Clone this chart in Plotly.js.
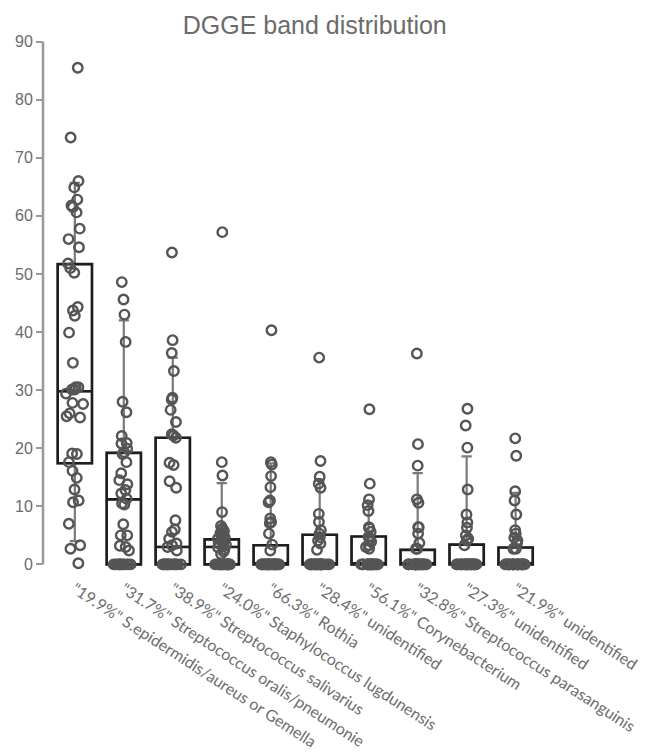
<!DOCTYPE html>
<html>
<head>
<meta charset="utf-8">
<script src="https://cdn.plot.ly/plotly-3.0.1.min.js"></script>
<style>
  html, body { margin: 0; padding: 0; background: #ffffff; }
  #chart { width: 645px; height: 753px; }
</style>
</head>
<body>
<div id="chart"></div>
<script>
// Band groups (x categories)
const categories = [
  '"19.9%" S.epidermidis/aureus or Gemella',
  '"31.7%" Streptococcus oralis/pneumonie',
  '"38.9%" Streptococcus salivarius',
  '"24.0%" Staphylococcus lugdunensis',
  '"66.3%" Rothia',
  '"28.4%" unidentified',
  '"56.1%" Corynebacterium',
  '"32.8%" Streptococcus parasanguinis',
  '"27.3%" unidentified',
  '"21.9%" unidentified'
];

// Box statistics per group
const q1Values      = [17.4, 0, 0, 0, 0, 0, 0, 0, 0, 0];
const medianValues  = [29.8, 11.2, 3.0, 3.0, 0, 0, 0, 0, 0, 0];
const q3Values      = [51.7, 19.2, 21.8, 4.3, 3.3, 5.1, 4.8, 2.5, 3.4, 2.9];
const lowerWhisker  = [4.0, 0, 0, 0, 0, 0, 0, 0, 0, 0];
const upperWhisker  = [65.7, 42.0, 35.6, 14.0, 17.4, 14.6, 10.8, 15.7, 18.6, 12.3];

// Individual band values per group
const zeros = n => Array(n).fill(0);
const sEpidermidis = [85.5, 73.5, 66.0, 64.9, 62.8, 61.8, 61.5, 60.6, 57.8, 56.0, 54.6, 51.8, 51.0, 50.2,
  44.3, 43.7, 42.8, 39.9, 34.7, 30.5, 30.5, 30.1, 30.1, 29.4, 27.8, 27.6, 26.0, 25.5, 25.3,
  19.1, 19.0, 17.6, 16.1, 14.9, 12.9, 11.0, 10.7, 7.0, 3.3, 2.7, 0.2];
const sOralis = [48.6, 45.6, 43.0, 38.3, 28.0, 26.2, 22.1, 20.9, 20.8, 19.9, 19.3, 19.0, 17.6, 15.7,
  14.5, 13.8, 12.8, 12.2, 11.3, 10.5, 10.3, 6.9, 5.0, 5.0, 3.2, 3.0, 2.4].concat(zeros(12));
const sSalivarius = [53.7, 38.6, 36.4, 33.3, 28.7, 28.4, 26.6, 24.5, 22.4, 22.2, 21.8, 17.5, 17.1,
  14.3, 13.2, 7.6, 6.0, 5.6, 4.4, 3.6, 3.3, 3.0, 2.4].concat(zeros(16));
const sLugdunensis = [57.2, 17.6, 15.3, 9.0, 6.6, 6.2, 6.0, 5.7, 5.4, 5.1, 4.9, 4.6, 4.4, 4.1, 3.9,
  3.6, 3.4, 3.1, 2.9, 2.6, 2.2, 1.8].concat(zeros(20));
const rothia = [40.3, 17.6, 17.2, 15.2, 13.3, 11.0, 10.7, 7.9, 7.3, 7.1, 5.3, 3.4, 2.4].concat(zeros(26));
const unidentifiedA = [35.6, 17.8, 15.1, 13.9, 13.2, 8.7, 7.3, 5.9, 5.3, 4.7, 4.1, 3.6, 2.5].concat(zeros(25));
const corynebacterium = [26.7, 13.9, 11.2, 10.2, 9.2, 6.4, 6.2, 5.6, 4.7, 4.3, 3.9, 3.3, 3.0, 2.7].concat(zeros(22));
const sParasanguinis = [36.3, 20.7, 17.0, 11.2, 10.6, 6.4, 6.4, 5.3, 3.7, 2.7, 2.7].concat(zeros(25));
const unidentifiedB = [26.8, 23.9, 20.1, 12.9, 8.6, 7.2, 6.3, 5.0, 4.4, 4.1, 3.3].concat(zeros(25));
const unidentifiedC = [21.7, 18.7, 12.6, 11.0, 8.6, 5.9, 5.3, 4.6, 4.1, 3.6, 2.7, 2.7].concat(zeros(25));

const groupValues = [sEpidermidis, sOralis, sSalivarius, sLugdunensis, rothia,
  unidentifiedA, corynebacterium, sParasanguinis, unidentifiedB, unidentifiedC];

// Flatten samples for the point layer
const pointX = [];
const pointY = [];
groupValues.forEach((vals, i) => {
  vals.forEach(v => { pointX.push(categories[i]); pointY.push(v); });
});

const boxWidth = 0.7;

// Grey whiskers (full fences)
const whiskerTrace = {
  type: 'box',
  x: categories,
  q1: q1Values,
  median: medianValues,
  q3: q3Values,
  lowerfence: lowerWhisker,
  upperfence: upperWhisker,
  width: boxWidth,
  whiskerwidth: 0.3,
  line: { color: '#7a7a7a', width: 2.2 },
  fillcolor: 'rgba(0,0,0,0)',
  boxpoints: false,
  showlegend: false,
  hoverinfo: 'skip'
};

// Black box body and median
const bodyTrace = {
  type: 'box',
  x: categories,
  q1: q1Values,
  median: medianValues,
  q3: q3Values,
  lowerfence: q1Values,
  upperfence: q3Values,
  width: boxWidth,
  whiskerwidth: 0,
  line: { color: '#1e1e1e', width: 2.6 },
  fillcolor: 'rgba(0,0,0,0)',
  boxpoints: false,
  showlegend: false,
  hoverinfo: 'skip'
};

// Jittered sample points
const pointTrace = {
  type: 'box',
  x: pointX,
  y: pointY,
  width: boxWidth,
  boxpoints: 'all',
  jitter: 0.6,
  pointpos: 0,
  line: { color: 'rgba(0,0,0,0)', width: 0 },
  fillcolor: 'rgba(0,0,0,0)',
  marker: {
    symbol: 'circle-open',
    size: 9.5,
    color: '#555555',
    line: { width: 2.4, color: '#555555' }
  },
  showlegend: false,
  hoverinfo: 'skip'
};

const layout = {
  width: 645,
  height: 753,
  margin: { l: 43, r: 100, t: 30, b: 177 },
  paper_bgcolor: '#ffffff',
  plot_bgcolor: '#ffffff',
  boxmode: 'overlay',
  hovermode: false,
  showlegend: false,
  title: {
    text: 'DGGE band distribution',
    x: 0.488,
    xref: 'container',
    xanchor: 'center',
    y: 0.978,
    yref: 'container',
    yanchor: 'top',
    font: { family: '"Liberation Sans", Arial, sans-serif', size: 25, color: '#6b6b6b' }
  },
  xaxis: {
    type: 'category',
    categoryorder: 'array',
    categoryarray: categories,
    range: [-0.65, 9.6],
    showgrid: false,
    zeroline: false,
    showline: false,
    ticks: '',
    tickangle: 33,
    tickfont: { family: 'Lato, "Open Sans", sans-serif', size: 16, color: '#6e6e6e' },
    automargin: false
  },
  yaxis: {
    range: [-2, 92],
    tick0: 0,
    dtick: 10,
    showgrid: false,
    zeroline: false,
    showline: false,
    ticks: 'outside',
    ticklen: 6,
    tickwidth: 2,
    tickcolor: '#999999',
    tickfont: { family: '"Liberation Sans", Arial, sans-serif', size: 16, color: '#6b6b6b' },
    automargin: false
  },
  shapes: [{
    type: 'line',
    xref: 'paper', yref: 'y',
    x0: 0, x1: 0, y0: 0, y1: 90,
    line: { color: '#999999', width: 2.5 }
  }]
};

Plotly.newPlot('chart', [whiskerTrace, bodyTrace, pointTrace], layout, { displayModeBar: false, staticPlot: true });
</script>
</body>
</html>
